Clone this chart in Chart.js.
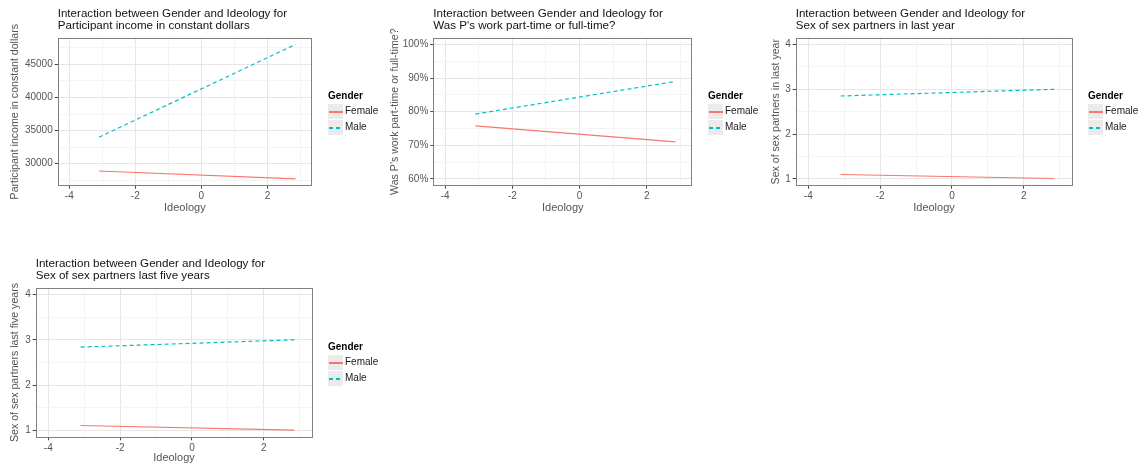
<!DOCTYPE html>
<html>
<head>
<meta charset="utf-8">
<script src="https://cdn.jsdelivr.net/npm/chart.js@4.4.1/dist/chart.umd.min.js"></script>
<style>
  body { margin: 0; background: #ffffff; width: 1138px; height: 463px; overflow: hidden; position: relative; }
  canvas { position: absolute; }
</style>
</head>
<body>
<canvas id="c1" width="378" height="228" style="left:0px;top:0px"></canvas>
<canvas id="c2" width="378" height="228" style="left:380px;top:0px"></canvas>
<canvas id="c3" width="380" height="228" style="left:758px;top:0px"></canvas>
<canvas id="c4" width="378" height="213" style="left:0px;top:250px"></canvas>
<script>
// ---------------- data ----------------
const genders = ["Female", "Male"];
const ideology = [-3.1, 2.85];

const incomeFemale = [28900, 27700];
const incomeMale = [34000, 48000];

const workFemale = [0.758, 0.710];
const workMale = [0.793, 0.890];

const partnersYearFemale = [1.10, 1.01];
const partnersYearMale = [2.85, 3.00];

const partnersFiveFemale = [1.11, 1.01];
const partnersFiveMale = [2.84, 3.00];

// axis ranges and ticks
const ideologyRange = [-4.35, 3.35];
const ideologyMajor = [-4, -2, 0, 2];
const ideologyMinor = [-3, -1, 1, 3];

const incomeRange = [26685, 49015];
const incomeMajor = [30000, 35000, 40000, 45000];
const incomeMinor = [27500, 32500, 37500, 42500, 47500];

const workRange = [0.58, 1.02];
const workMajor = [0.6, 0.7, 0.8, 0.9, 1.0];
const workMinor = [0.65, 0.75, 0.85, 0.95];

const countRange = [0.85, 4.15];
const countMajor = [1, 2, 3, 4];
const countMinor = [1.5, 2.5, 3.5];

const FONT = '"Liberation Sans", Arial, Helvetica, sans-serif';
const FEMALE_COLOR = "#F8766D";
const MALE_COLOR = "#00BFC4";

// ---------------- plugins ----------------
const panelBorder = {
  id: "panelBorder",
  afterDatasetsDraw(chart) {
    const a = chart.chartArea;
    const ctx = chart.ctx;
    ctx.save();
    ctx.strokeStyle = "#808080";
    ctx.lineWidth = 1;
    ctx.strokeRect(Math.round(a.left) + 0.5, Math.round(a.top) + 0.5,
                   Math.round(a.right - a.left) - 1, Math.round(a.bottom - a.top) - 1);
    ctx.restore();
  }
};

const ggLegend = {
  id: "ggLegend",
  afterDraw(chart, args, opts) {
    const a = chart.chartArea;
    const ctx = chart.ctx;
    const x = Math.round(opts.x);
    const yc = Math.round((a.top + a.bottom) / 2);
    ctx.save();
    ctx.textBaseline = "middle";
    ctx.textAlign = "left";
    ctx.fillStyle = "#000000";
    ctx.font = "bold 10px " + FONT;
    ctx.fillText("Gender", x, yc - 16);
    chart.data.datasets.forEach((ds, i) => {
      const y = yc - 1 + i * 16;
      ctx.fillStyle = "#ebebeb";
      ctx.fillRect(x, y - 7, 15, 15);
      ctx.strokeStyle = ds.borderColor;
      ctx.lineWidth = 2;
      ctx.setLineDash(ds.borderDash || []);
      ctx.beginPath();
      ctx.moveTo(x + 1, y + 1);
      ctx.lineTo(x + 15, y + 1);
      ctx.stroke();
      ctx.setLineDash([]);
      ctx.fillStyle = "#1a1a1a";
      ctx.font = "10px " + FONT;
      ctx.fillText(ds.label, x + 17, y + 0.5);
    });
    ctx.restore();
  }
};

// ---------------- builder ----------------
function points(xs, ys) {
  return xs.map((x, i) => ({ x: x, y: ys[i] }));
}

function makePanel(canvasId, g, cfg) {
  const canvas = document.getElementById(canvasId);
  const box = { left: g.box[0], top: g.box[1], width: canvas.width, height: canvas.height };

  const titleSize = 11.6;
  const axisTitleLH = 11 * 1.2;

  const padLeft = g.yTitleX - axisTitleLH / 2 - box.left;
  const yAxisWidth = g.plot[0] - g.yTitleX + axisTitleLH / 2;
  const padTop = g.titleY - titleSize / 2 - box.top;
  const titleBottom = (g.plot[1] - box.top) - padTop - 2 * titleSize;
  const xAxisHeight = g.xTitleY + axisTitleLH / 2 - g.plot[3];
  const padBottom = box.top + box.height - (g.xTitleY + axisTitleLH / 2);
  const padRight = box.left + box.width - g.plot[2];

  const gridColor = (majors) => (c) =>
    (c.tick && majors.includes(c.tick.value)) ? "#e6e6e6" : "#f4f4f4";
  const tickColor = (majors) => (c) =>
    (c.tick && majors.includes(c.tick.value)) ? "#444444" : "rgba(0,0,0,0)";

  return new Chart(canvas, {
    type: "line",
    data: {
      datasets: [
        {
          label: genders[0],
          data: points(ideology, cfg.female),
          borderColor: FEMALE_COLOR,
          borderWidth: 1.2,
          pointRadius: 0,
          fill: false
        },
        {
          label: genders[1],
          data: points(ideology, cfg.male),
          borderColor: MALE_COLOR,
          borderWidth: 1.2,
          borderDash: [4, 3],
          pointRadius: 0,
          fill: false
        }
      ]
    },
    options: {
      responsive: false,
      animation: false,
      events: [],
      layout: {
        padding: { left: padLeft, top: padTop, right: padRight, bottom: padBottom }
      },
      plugins: {
        legend: { display: false },
        tooltip: { enabled: false },
        title: {
          display: true,
          text: cfg.title,
          align: "start",
          fullSize: false,
          color: "#111111",
          font: { family: FONT, size: titleSize, weight: "normal", lineHeight: 1.0 },
          padding: { top: 0, bottom: titleBottom }
        },
        ggLegend: { x: g.legendX - box.left }
      },
      scales: {
        x: {
          type: "linear",
          min: ideologyRange[0],
          max: ideologyRange[1],
          afterBuildTicks: (s) => {
            s.ticks = ideologyMajor.concat(ideologyMinor).sort((a, b) => a - b).map(v => ({ value: v }));
          },
          afterFit: (s) => { s.height = xAxisHeight; },
          border: { display: false },
          grid: {
            color: gridColor(ideologyMajor),
            tickColor: tickColor(ideologyMajor),
            tickLength: 3,
            lineWidth: 1
          },
          ticks: {
            autoSkip: false,
            maxRotation: 0,
            padding: 2,
            color: "#555555",
            font: { family: FONT, size: 10 },
            callback: (v) => ideologyMajor.includes(v) ? String(v) : ""
          },
          title: {
            display: true,
            text: "Ideology",
            color: "#555555",
            padding: { top: 0, bottom: 0 },
            font: { family: FONT, size: 11, lineHeight: 1.2 }
          }
        },
        y: {
          type: "linear",
          min: cfg.range[0],
          max: cfg.range[1],
          afterBuildTicks: (s) => {
            s.ticks = cfg.major.concat(cfg.minor).sort((a, b) => a - b).map(v => ({ value: v }));
          },
          afterFit: (s) => { s.width = yAxisWidth; },
          border: { display: false },
          grid: {
            color: gridColor(cfg.major),
            tickColor: tickColor(cfg.major),
            tickLength: 3,
            lineWidth: 1
          },
          ticks: {
            autoSkip: false,
            padding: 2,
            color: "#555555",
            font: { family: FONT, size: 10 },
            callback: (v) => cfg.major.includes(v) ? cfg.format(v) : ""
          },
          title: {
            display: true,
            text: cfg.yTitle,
            color: "#555555",
            padding: { top: 0, bottom: 0 },
            font: { family: FONT, size: 10.6, lineHeight: 11 * 1.2 / 10.6 }
          }
        }
      }
    },
    plugins: [panelBorder, ggLegend]
  });
}

// ---------------- panels ----------------
makePanel("c1",
  { box: [0, 0], plot: [57.7, 37.7, 312, 185.7], yTitleX: 15, titleY: 14, xTitleY: 208, legendX: 327.5 },
  {
    title: ["Interaction between Gender and Ideology for", "Participant income in constant dollars"],
    yTitle: "Participant income in constant dollars",
    female: incomeFemale, male: incomeMale,
    range: incomeRange, major: incomeMajor, minor: incomeMinor,
    format: (v) => String(v)
  });

makePanel("c2",
  { box: [380, 0], plot: [433.3, 37.7, 692.3, 185.7], yTitleX: 395, titleY: 14, xTitleY: 208, legendX: 707.5 },
  {
    title: ["Interaction between Gender and Ideology for", "Was P's work part-time or full-time?"],
    yTitle: "Was P's work part-time or full-time?",
    female: workFemale, male: workMale,
    range: workRange, major: workMajor, minor: workMinor,
    format: (v) => Math.round(v * 100) + "%"
  });

makePanel("c3",
  { box: [758, 0], plot: [795.7, 37.7, 1072.3, 185.7], yTitleX: 776.3, titleY: 14, xTitleY: 208, legendX: 1087.5 },
  {
    title: ["Interaction between Gender and Ideology for", "Sex of sex partners in last year"],
    yTitle: "Sex of sex partners in last year",
    female: partnersYearFemale, male: partnersYearMale,
    range: countRange, major: countMajor, minor: countMinor,
    format: (v) => String(v)
  });

makePanel("c4",
  { box: [0, 250], plot: [35.7, 287.7, 312.3, 437.3], yTitleX: 15, titleY: 264, xTitleY: 458.3, legendX: 327.5 },
  {
    title: ["Interaction between Gender and Ideology for", "Sex of sex partners last five years"],
    yTitle: "Sex of sex partners last five years",
    female: partnersFiveFemale, male: partnersFiveMale,
    range: countRange, major: countMajor, minor: countMinor,
    format: (v) => String(v)
  });
</script>
</body>
</html>
